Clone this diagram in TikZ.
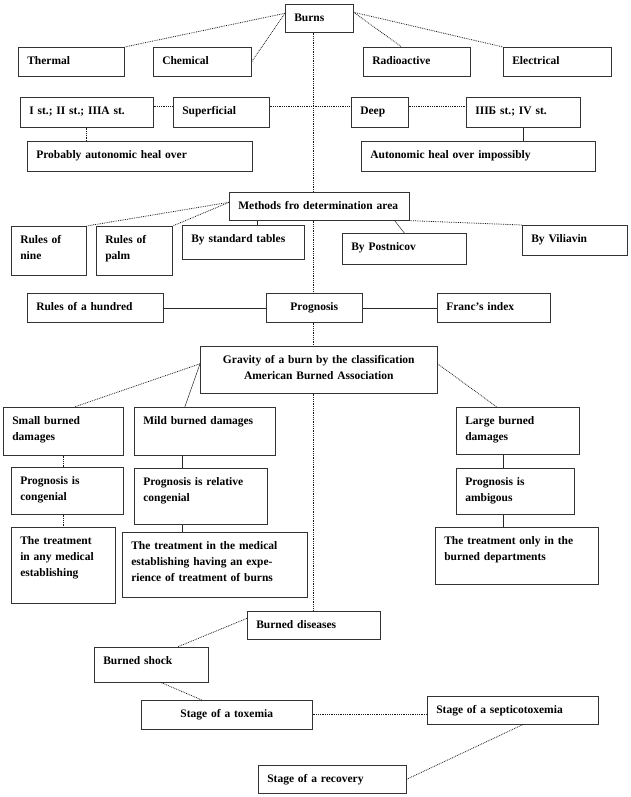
\documentclass[tikz,border=0pt]{standalone}
\usepackage{fontspec}
\setmainfont{Liberation Serif}
\usepackage{tikz}
\pgfkeys{tikz/burnbox/.style={draw=black!80, line width=0.6pt,
                                  anchor=north west, align=left,
                                  inner xsep=9pt, inner ysep=3pt,
                                  text height=14pt,
                                  font=\bfseries\fontsize{11.5}{16}\selectfont}}
\pgfkeys{tikz/dotlink/.style={densely dotted, line width=0.8pt, black!90}}
\pgfkeys{tikz/link/.style={line width=0.5pt, black!85}}

\begin{document}
\begin{tikzpicture}[x=1pt, y=-1pt]
            \useasboundingbox (0,0) rectangle (630,797);

            \node[burnbox, text width=50pt, text depth=8pt] (burns) at (285,4) {Burns};

                    \node[burnbox, text width=88pt, text depth=9pt] (thermal) at (18,47) {Thermal};
                    \node[burnbox, text width=80pt, text depth=9pt] (chemical) at (153,47) {Chemical};
                    \node[burnbox, text width=89pt, text depth=9pt] (radio) at (363,47) {Radioactive};
                    \node[burnbox, text width=90pt, text depth=9pt] (electrical) at (503,47) {Electrical};

                    \draw[dotlink] ([yshift=5pt]burns.west) -- (thermal.north east);
                    \draw[dotlink] ([yshift=5pt]burns.west) -- (chemical.east);
                    \draw[dotlink] ([yshift=6pt]burns.east) -- ([xshift=-15pt]radio.north);
                    \draw[dotlink] ([yshift=6pt]burns.east) -- (electrical.north west);

                    \node[burnbox, text width=115pt, text depth=10pt] (ist) at (20,97) {I st.; II st.; IIIA st.};
                    \node[burnbox, text width=78pt, text depth=10pt] (superficial) at (173,97) {Superficial};
                    \node[burnbox, text width=39pt, text depth=10pt] (deep) at (351,97) {Deep};
                    \node[burnbox, text width=96pt, text depth=10pt] (iiib) at (466,97) {IIIБ st.; IV st.};

                    \node[burnbox, text width=207pt, text depth=10pt] (probably) at (27,141) {Probably autonomic heal over};
                    \node[burnbox, text width=216pt, text depth=10pt] (autonomic) at (361,141) {Autonomic heal over impossibly};

                    \draw[dotlink] ([yshift=6pt]ist.east) -- ([yshift=6pt]ist.east -| superficial.west);
                    \draw[dotlink] ([yshift=6pt]superficial.east) -- ([yshift=6pt]superficial.east -| deep.west);
                    \draw[dotlink] ([yshift=6pt]deep.east) -- ([yshift=6pt]deep.east -| iiib.west);
                    \draw[dotlink] (ist.south) -- (ist.south |- probably.north);
                    \draw[link] (iiib.south) -- (iiib.south |- autonomic.north);

                    \node[burnbox, text width=162pt, text depth=8pt] (methods) at (229,192) {Methods fro determination area};

                    \node[burnbox, text width=57pt, text depth=29pt] (nine) at (11,226) {Rules of\\nine};
                    \node[burnbox, text width=58pt, text depth=29pt] (palm) at (96,226) {Rules of\\palm};
                    \node[burnbox, text width=104pt, text depth=14pt] (tables) at (182,225) {By standard tables};
                    \node[burnbox, text width=106pt, text depth=11pt] (postnicov) at (342,233) {By Postnicov};
                    \node[burnbox, text width=87pt, text depth=10pt] (viliavin) at (522,225) {By Viliavin};

                    \draw[dotlink] ([yshift=4pt]methods.west) -- (nine.north east);
                    \draw[dotlink] ([yshift=4pt]methods.west) -- (palm.north east);
                    \draw[link] ([xshift=28pt]methods.south west) -- ([xshift=28pt]methods.south west |- tables.north);
                    \draw[link] ([xshift=-15pt]methods.south east) -- (postnicov.north);
                    \draw[dotlink] (methods.south east) -- (viliavin.north west);

                    \node[burnbox, text width=118pt, text depth=9pt] (hundred) at (27,293) {Rules of a hundred};
                    \node[burnbox, text width=78pt, text depth=9pt, align=center] (prognosis) at (266,293) {Prognosis};
                    \node[burnbox, text width=95pt, text depth=9pt] (franc) at (437,293) {Franc’s index};

                    \draw[link] (hundred.east) -- (prognosis.west);
                    \draw[link] (prognosis.east) -- (franc.west);

                    \node[burnbox, text width=219pt, text depth=27pt, align=center] (gravity) at (200,346) {Gravity of a burn by the classification\\American Burned Association};

                    \node[burnbox, text width=102pt, text depth=28pt] (small) at (3,407) {Small burned\\damages};
                    \node[burnbox, text width=123pt, text depth=28pt] (mild) at (134,407) {Mild burned damages};
                    \node[burnbox, text width=105pt, text depth=27pt] (large) at (456,407) {Large burned\\damages};

                    \draw[dotlink] ([yshift=6pt]gravity.west) -- ([xshift=11pt]small.north);
                    \draw[link] ([yshift=6pt]gravity.west) -- ([xshift=-20pt]mild.north);
                    \draw[dotlink] ([yshift=6pt]gravity.east) -- ([xshift=-21pt]large.north);

                    \node[burnbox, text width=94pt, text depth=27pt] (congenial) at (11,467) {Prognosis is\\congenial};
                    \node[burnbox, text width=115pt, text depth=36pt] (relative) at (134,468) {Prognosis is relative\\congenial};
                    \node[burnbox, text width=100pt, text depth=26pt] (ambig) at (456,468) {Prognosis is\\ambigous};

                    \node[burnbox, text width=86pt, text depth=56pt] (anymed) at (11,527) {The treatment\\in any medical\\establishing};
                    \node[burnbox, text width=167pt, text depth=45pt] (medical) at (122,532) {The treatment in the medical\\establishing having an expe-\\rience of treatment of burns};
                    \node[burnbox, text width=145pt, text depth=37pt] (onlyburned) at (435,527) {The treatment only in the\\burned departments};

                    \draw[dotlink] (small.south) -- (small.south |- congenial.north);
                    \draw[dotlink] (anymed.north |- congenial.south) -- (anymed.north);
                    \draw[link] ([xshift=-19pt]relative.north |- mild.south) -- ([xshift=-19pt]relative.north);
                    \draw[link] ([xshift=-19pt]relative.south) -- ([xshift=-19pt]relative.south |- medical.north);
                    \draw[link] ([xshift=-12pt]ambig.north |- large.south) -- ([xshift=-12pt]ambig.north);
                    \draw[link] ([xshift=-12pt]ambig.south) -- ([xshift=-12pt]ambig.south |- onlyburned.north);

                    \node[burnbox, text width=115pt, text depth=8pt] (diseases) at (247,611) {Burned diseases};
                    \node[burnbox, text width=96pt, text depth=15pt] (shock) at (94,647) {Burned shock};
                    \node[burnbox, text width=153pt, text depth=9pt, align=center] (toxemia) at (141,700) {Stage of a toxemia};
                    \node[burnbox, text width=153pt, text depth=8pt] (septico) at (427,696) {Stage of a septicotoxemia};
                    \node[burnbox, text width=130pt, text depth=8pt] (recovery) at (258,765) {Stage of a recovery};

                    \draw[dotlink] ([yshift=7pt]diseases.west) -- ([xshift=26pt]shock.north);
                    \draw[dotlink] ([xshift=10pt]shock.south) -- ([xshift=-25pt]toxemia.north);
                    \draw[dotlink] (toxemia.east) -- (toxemia.east -| septico.west);
                    \draw[dotlink] ([xshift=10pt]septico.south) -- (recovery.east);

                    \draw[dotlink] (burns.south -| diseases.north) -- (methods.north -| diseases.north);
                    \draw[dotlink] (methods.south -| diseases.north) -- (prognosis.north -| diseases.north);
                    \draw[dotlink] (prognosis.south -| diseases.north) -- (gravity.north -| diseases.north);
                    \draw[dotlink] (gravity.south -| diseases.north) -- (diseases.north);
        \end{tikzpicture}
\end{document}
